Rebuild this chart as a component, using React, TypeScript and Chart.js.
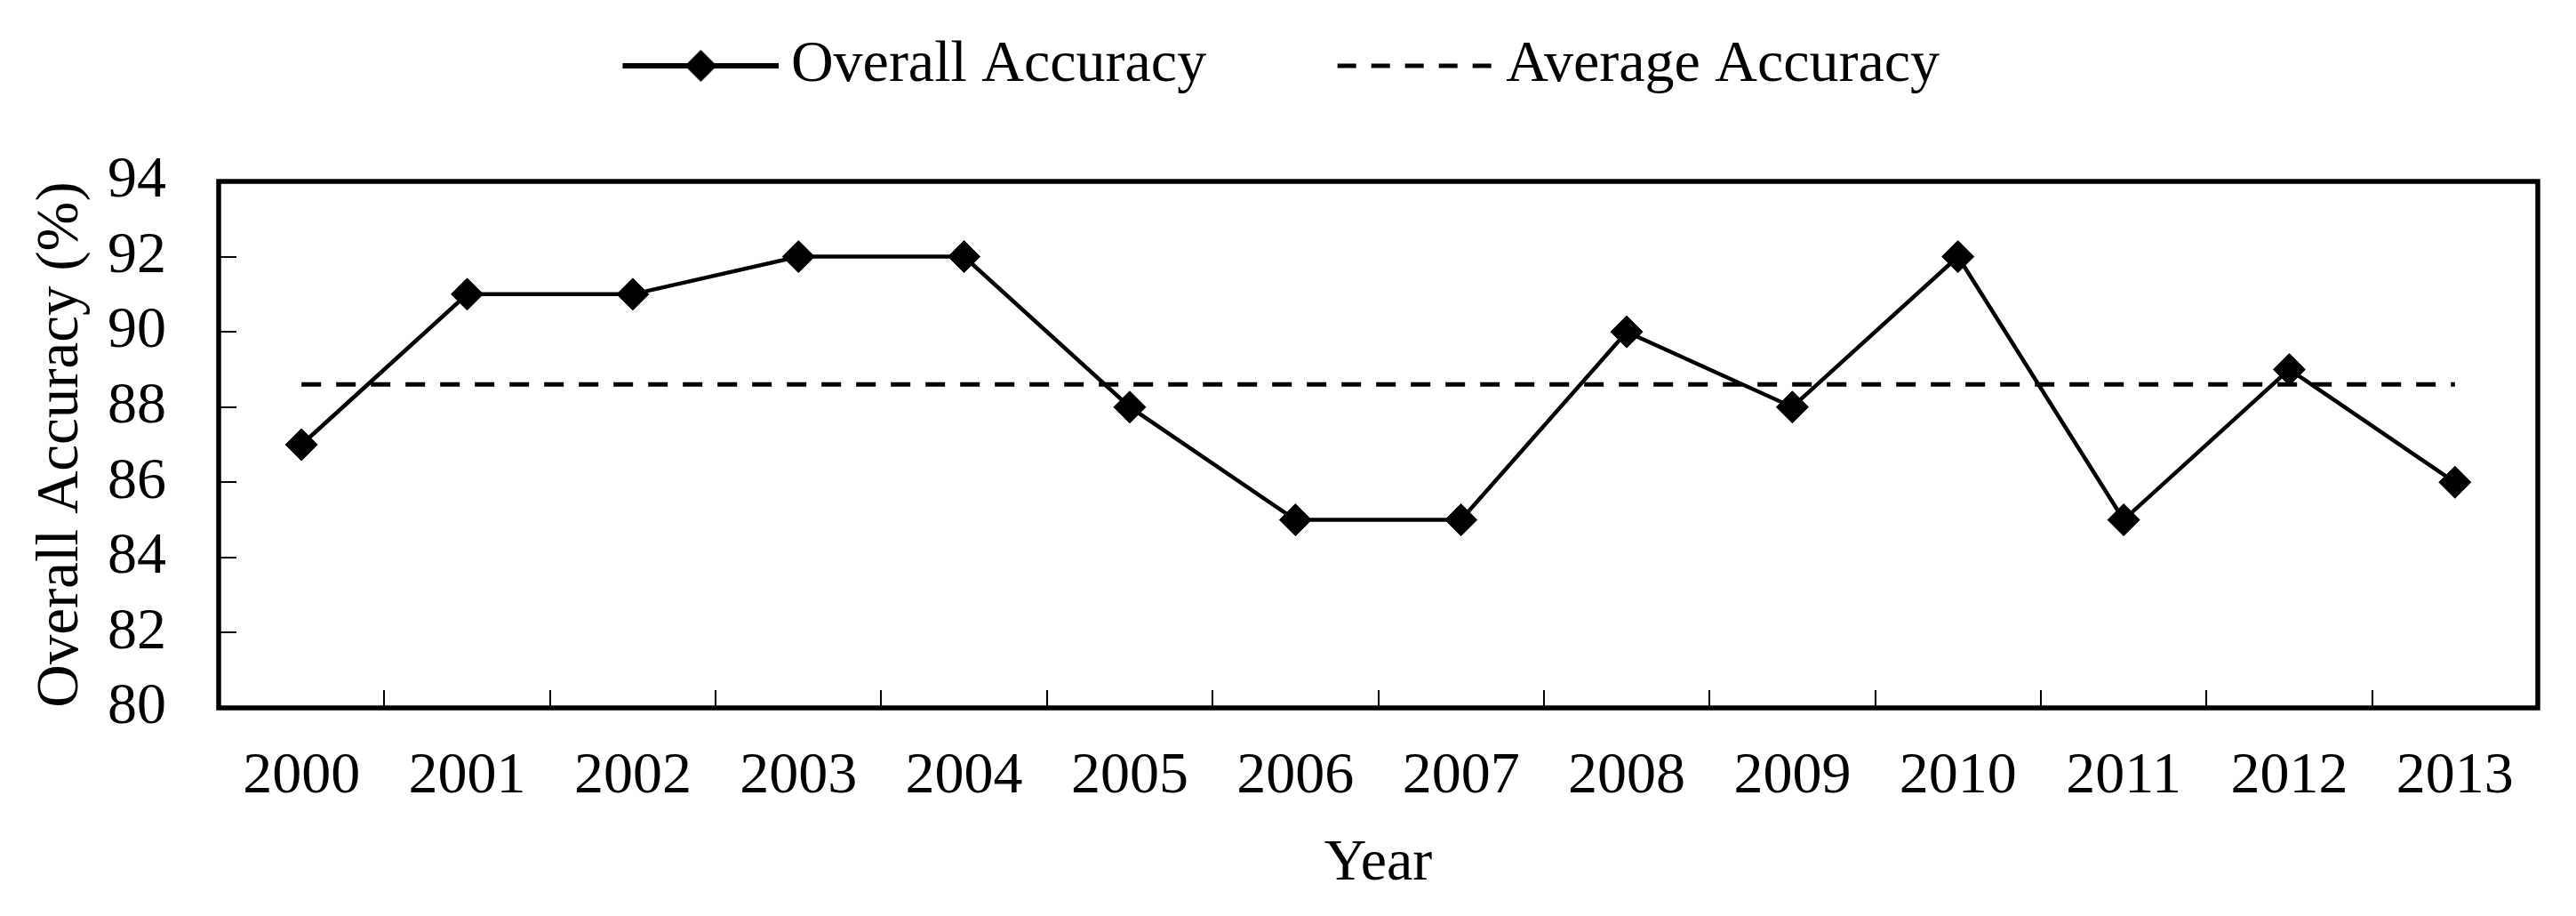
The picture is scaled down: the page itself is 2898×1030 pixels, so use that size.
import React, { useEffect, useRef } from 'react';
import { Chart, registerables } from 'chart.js';

Chart.register(...registerables);

// ---- data ----
const years = ['2000', '2001', '2002', '2003', '2004', '2005', '2006', '2007', '2008', '2009', '2010', '2011', '2012', '2013'];
const overallAccuracy = [87, 91, 91, 92, 92, 88, 85, 85, 90, 88, 92, 85, 89, 86];
const averageAccuracy = [88.6, 88.6, 88.6, 88.6, 88.6, 88.6, 88.6, 88.6, 88.6, 88.6, 88.6, 88.6, 88.6, 88.6];
const seriesLabels = ['Overall Accuracy', 'Average Accuracy'];
const yAxisMin = 80;
const yAxisMax = 94;
const yAxisStep = 2;
const xAxisTitle = 'Year';
const yAxisTitle = 'Overall Accuracy (%)';

const FONT = "'Liberation Serif', 'Times New Roman', Times, serif";
const W = 2898;
const H = 1030;
const LEGEND_HEIGHT = 310;

function makeSolidSample(): HTMLCanvasElement {
  const c = document.createElement('canvas');
  c.width = 196;
  c.height = 44;
  const g = c.getContext('2d')!;
  g.fillStyle = '#000';
  g.fillRect(20, 19, 176, 6);
  const cx = 20 + 88;
  const cy = 22;
  const r = 18;
  g.beginPath();
  g.moveTo(cx - r, cy);
  g.lineTo(cx, cy - r);
  g.lineTo(cx + r, cy);
  g.lineTo(cx, cy + r);
  g.closePath();
  g.fill();
  return c;
}

function makeDashedSample(): HTMLCanvasElement {
  const c = document.createElement('canvas');
  c.width = 196;
  c.height = 44;
  const g = c.getContext('2d')!;
  g.fillStyle = '#000';
  for (let i = 0; i < 5; i++) {
    g.fillRect(20 + i * 38, 19.5, 21, 5);
  }
  return c;
}

const framePlugin = {
  id: 'frameAndLegendSpace',
  beforeLayout(chart: any) {
    const lg = chart.legend;
    if (lg && !lg.__patched) {
      const orig = lg.fit.bind(lg);
      lg.fit = function () {
        orig();
        this.height = LEGEND_HEIGHT;
      };
      lg.__patched = true;
    }
  },
  afterDraw(chart: any) {
    const { ctx, chartArea: a } = chart;
    ctx.save();
    ctx.strokeStyle = '#000';
    ctx.lineWidth = 5.5;
    ctx.strokeRect(a.left, a.top, a.right - a.left, a.bottom - a.top);
    ctx.restore();
  },
};

export default function App() {
  const ref = useRef<HTMLCanvasElement | null>(null);

  useEffect(() => {
    document.body.style.margin = '0';
    const canvas = ref.current;
    if (!canvas) return;
    const samples = [makeSolidSample(), makeDashedSample()];
    const font = { family: FONT, size: 66 };

    const chart = new Chart(canvas, {
      type: 'line',
      data: {
        labels: years,
        datasets: [
          {
            label: seriesLabels[0],
            data: overallAccuracy,
            borderColor: '#000',
            backgroundColor: '#000',
            borderWidth: 4.5,
            pointStyle: 'rectRot',
            pointRadius: 18,
            pointBorderWidth: 1,
            pointBackgroundColor: '#000',
            pointBorderColor: '#000',
            tension: 0,
            fill: false,
          },
          {
            label: seriesLabels[1],
            data: averageAccuracy,
            borderColor: '#000',
            backgroundColor: '#000',
            borderWidth: 5,
            borderDash: [22, 17],
            pointRadius: 0,
            fill: false,
          },
        ],
      },
      options: {
        responsive: false,
        animation: false,
        devicePixelRatio: 1,
        layout: { padding: { top: -106, left: 27, right: 43, bottom: 0 } },
        plugins: {
          tooltip: { enabled: false },
          legend: {
            position: 'top',
            labels: {
              usePointStyle: true,
              pointStyleWidth: 157,
              padding: 147,
              font,
              color: '#000',
              generateLabels: () =>
                seriesLabels.map((t, i) => ({
                  text: t,
                  pointStyle: samples[i] as any,
                  fillStyle: '#000',
                  strokeStyle: '#000',
                  lineWidth: 0,
                  hidden: false,
                  datasetIndex: i,
                  fontColor: '#000',
                })),
            },
          },
        },
        scales: {
          x: {
            offset: true,
            ticks: { padding: 58, autoSkip: false, maxRotation: 0, minRotation: 0, font, color: '#000' },
            grid: { offset: true, drawOnChartArea: false, drawTicks: true, tickLength: -20, color: '#000', lineWidth: 2 },
            border: { display: false },
            title: { display: true, text: xAxisTitle, font, color: '#000', padding: { top: 0, bottom: 19 } },
            afterFit: (s: any) => {
              s.height = 234;
            },
          },
          y: {
            min: yAxisMin,
            max: yAxisMax,
            ticks: { stepSize: yAxisStep, padding: 79, font, color: '#000' },
            grid: { drawOnChartArea: false, drawTicks: true, tickLength: -20, color: '#000', lineWidth: 2 },
            border: { display: false },
            title: { display: true, text: yAxisTitle, font: { family: FONT, size: 67 }, color: '#000', padding: { top: 2, bottom: 0 } },
            afterFit: (s: any) => {
              s.width = 219;
            },
          },
        },
      },
      plugins: [framePlugin],
    } as any);

    return () => chart.destroy();
  }, []);

  return (
    <div style={{ position: 'absolute', left: 0, top: 0, width: W, height: H, background: '#fff' }}>
      <canvas ref={ref} width={W} height={H} style={{ display: 'block', width: W, height: H }} />
    </div>
  );
}
